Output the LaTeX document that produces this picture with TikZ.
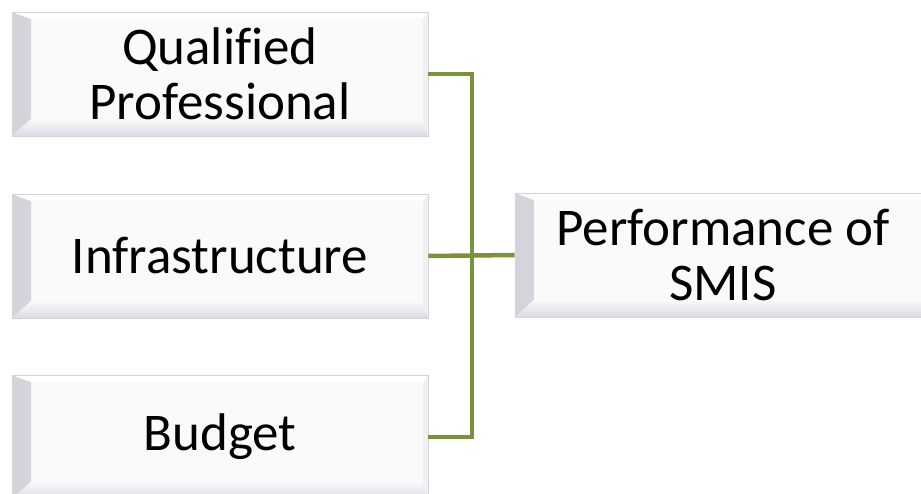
\documentclass[tikz,border=0pt]{standalone}
\usepackage{fontspec}
\setmainfont[Ligatures={NoCommon}]{Carlito}
\usetikzlibrary{calc}

\definecolor{linkgreen}{HTML}{77933C}
\definecolor{facegray}{HTML}{FAFAFB}
\definecolor{edgegray}{HTML}{D2D2D7}
\definecolor{bevleft}{HTML}{D3D3DB}
\definecolor{bevbottom}{HTML}{DADAE2}
\definecolor{bevright}{HTML}{F0F0F3}

\tikzset{
  bevelbox/.style={
    rectangle, inner sep=0pt, align=center,
    minimum width=416pt, minimum height=124pt,
    fill=facegray, draw=edgegray, line width=0.8pt,
    font=\fontsize{53}{55}\selectfont,
    path picture={
      % left face of the bevel
      \shade[left color=bevleft, right color=facegray]
        (path picture bounding box.south west) --
        (path picture bounding box.north west) --
        ($(path picture bounding box.north west)+(19pt,-7pt)$) --
        ($(path picture bounding box.south west)+(19pt,17pt)$) -- cycle;
      % bottom face of the bevel
      \shade[bottom color=bevbottom, top color=facegray]
        (path picture bounding box.south west) --
        (path picture bounding box.south east) --
        ($(path picture bounding box.south east)+(-5pt,17pt)$) --
        ($(path picture bounding box.south west)+(19pt,17pt)$) -- cycle;
      % right face of the bevel
      \fill[bevright]
        (path picture bounding box.north east) --
        (path picture bounding box.south east) --
        ($(path picture bounding box.south east)+(-5pt,17pt)$) --
        ($(path picture bounding box.north east)+(-5pt,-7pt)$) -- cycle;
      % top face of the bevel
      \fill[white]
        (path picture bounding box.north west) --
        (path picture bounding box.north east) --
        ($(path picture bounding box.north east)+(-5pt,-7pt)$) --
        ($(path picture bounding box.north west)+(19pt,-7pt)$) -- cycle;
    }
  },
  link/.style={draw=linkgreen, line width=4.5pt, line join=miter}
}

\begin{document}
\begin{tikzpicture}[x=1pt,y=-1pt]
  \useasboundingbox (0,0) rectangle (921,494);

  \node[bevelbox] (qual)  at (220,74)  {Quali\hbox{}fied\\Professional};
  \node[bevelbox] (infra) at (220,256) {Infrastructure};
  \node[bevelbox] (budg)  at (220,437) {Budget};
  \node[bevelbox] (perf)  at (723,255) {Performance of\\SMIS};

  % joint of the three inputs
  \coordinate (trunk) at (472,74);

  \draw[link] (qual.east) -- (trunk) |- (budg.east);
  \draw[link] (infra.east) -- (perf.west);
\end{tikzpicture}
\end{document}
